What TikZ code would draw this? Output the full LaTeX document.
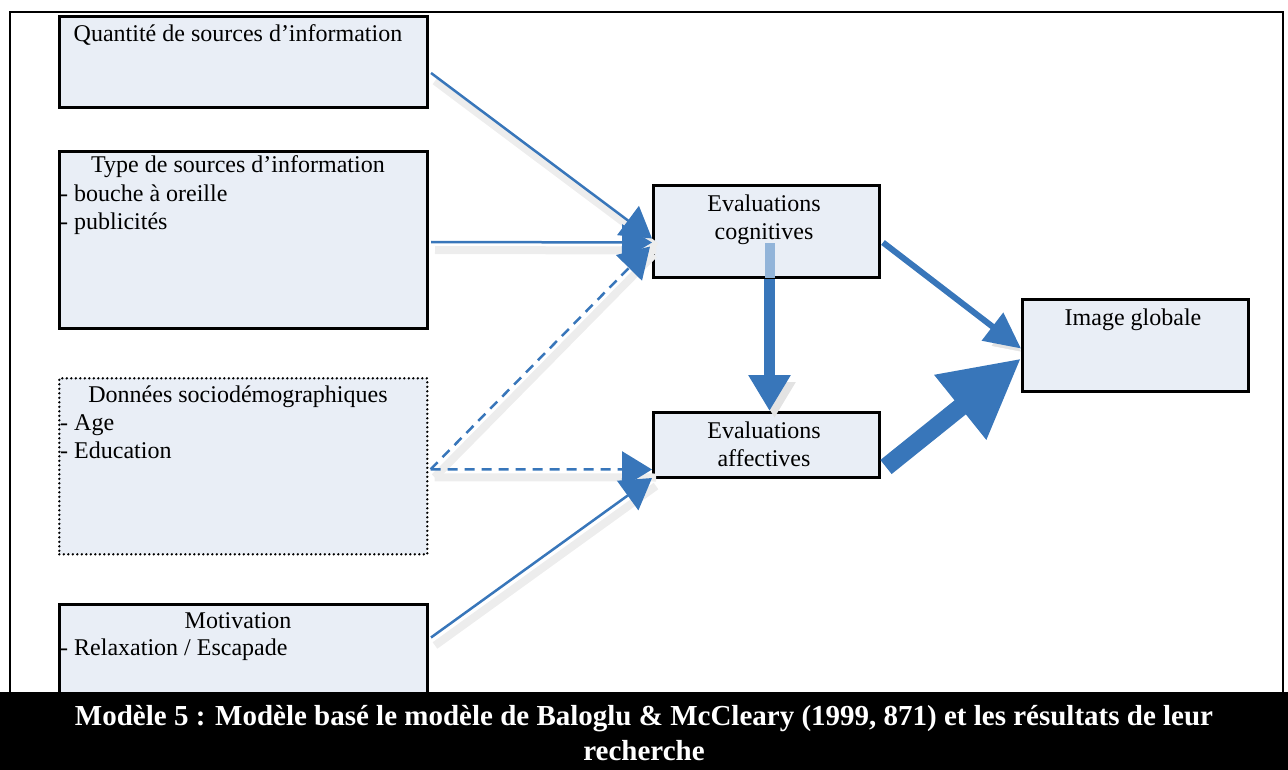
\documentclass[tikz,border=0pt]{standalone}
\usepackage{fontspec}
\setmainfont{Liberation Serif}
\usetikzlibrary{arrows.meta,calc}
\definecolor{boxfill}{RGB}{233,238,246}
\definecolor{arrowblue}{RGB}{56,118,186}
\begin{document}
\begin{tikzpicture}[x=1pt,y=-1pt,
  box/.style={draw=black, line width=3pt, fill=boxfill, inner sep=0pt},
  dotbox/.style={draw=black, line width=2.6pt, dash pattern=on 0pt off 4.5pt, line cap=round, fill=boxfill, inner sep=0pt},
  txt/.style={font=\fontsize{24}{28}\selectfont, inner sep=0pt},
  shad/.style={preaction={draw=black!11, transform canvas={shift={(5pt,-7pt)}}}},
  thinshad/.style={preaction={draw=black!7, line width=8pt, solid, -, transform canvas={shift={(4pt,-8pt)}}}},
  thin/.style={thinshad, draw=arrowblue, line width=2.5pt, -{Triangle[length=30pt,width=36pt]}},
  thindash/.style={thin, dash pattern=on 10pt off 7pt},
  medarrow/.style={shad, draw=arrowblue, line width=6pt, -{Triangle[length=36pt,width=34pt]}},
  vertarrow/.style={shad, draw=arrowblue, line width=11pt, -{Triangle[length=36pt,width=40pt]}},
  bigarrow/.style={shad, draw=arrowblue, line width=18pt, -{Triangle[length=78pt,width=78pt]}},
  frame/.style={draw=black, line width=2pt}
]
\useasboundingbox (0,0) rectangle (1288,770);
% outer frame
\draw[frame] (10,692) -- (10,12) -- (1283,12) -- (1283,692);

% left boxes
\node[box, anchor=north west, minimum width=368pt, minimum height=91pt] (q) at (58,15) {};
\node[box, anchor=north west, minimum width=368pt, minimum height=177pt] (t) at (58,150) {};
\node[dotbox, anchor=north west, minimum width=368pt, minimum height=176pt] (d) at (58,377) {};
\node[box, anchor=north west, minimum width=368pt, minimum height=100pt] (m) at (58,603) {};

% middle / right boxes
\node[box, anchor=north west, minimum width=226pt, minimum height=92pt] (cog) at (652,184) {};
\node[box, anchor=north west, minimum width=226pt, minimum height=65pt] (aff) at (652,411) {};
\node[box, anchor=north west, minimum width=226pt, minimum height=92pt] (img) at (1021,298) {};

% texts
\node[txt, anchor=base] (qt) at (238,42) {Quantité de sources d’information};
\node[txt, anchor=base] (tt) at (238,173) {Type de sources d’information};
\node[txt, anchor=base west] (t1) at (60,202) {- bouche à oreille};
\node[txt, anchor=base west] (t2) at (60,230) {- publicités};
\node[txt, anchor=base] (dt) at (238,402) {Données sociodémographiques};
\node[txt, anchor=base west] (d1) at (60,430) {- Age};
\node[txt, anchor=base west] (d2) at (60,458) {- Education};
\node[txt, anchor=base] (mt) at (238,628) {Motivation};
\node[txt, anchor=base west] (m1) at (60,655) {- Relaxation / Escapade};
\node[txt, anchor=base] (c1) at (764,212) {Evaluations};
\node[txt, anchor=base] (c2) at (764,240) {cognitives};
\node[txt, anchor=base] (a1) at (764,438) {Evaluations};
\node[txt, anchor=base] (a2) at (764,466) {affectives};
\node[txt, anchor=base] (ig) at (1133,325) {Image globale};

% connector end points
\coordinate (qout) at ($(q.east)+(2,11)$);
\coordinate (tout) at ($(t.east)+(2,2)$);
\coordinate (dout) at ($(d.east)+(2,3)$);
\coordinate (mout) at ($(m.east)+(2,-17)$);
\coordinate (cogin1) at ($(cog.west)+(0,7)$);
\coordinate (cogin2) at ($(cog.west)+(0,11)$);
\coordinate (cogin3) at ($(cog.west)+(-2,15)$);
\coordinate (affin1) at ($(aff.west)+(0,24.5)$);
\coordinate (affin2) at ($(aff.west)+(0,33)$);
\coordinate (cogtop) at ($(cog.center)+(3,12)$);
\coordinate (cogbot) at ($(cog.south)+(3,0)$);
\coordinate (affbot) at ($(aff.north)+(3,0)$);
\coordinate (cogout) at ($(cog.east)+(2,11)$);
\coordinate (affout) at ($(aff.east)+(5,22)$);
\coordinate (imgin1) at ($(img.west)+(0,3)$);
\coordinate (imgin2) at ($(img.west)+(0,13)$);

% connectors
\draw[thin] (qout) -- (cogin1);
\draw[thin] (tout) -- (cogin2);
\draw[thindash] (dout) -- (cogin3);
\draw[thindash] (dout) -- (affin1);
\draw[thin] (mout) -- (affin2);
\fill[arrowblue!55] ($(cogtop)+(-5,0)$) rectangle ($(cogbot)+(5,-1.5)$);
\draw[vertarrow] (cogbot) -- (affbot);
\draw[medarrow] (cogout) -- (imgin1);
\draw[bigarrow] (affout) -- (imgin2);

% caption band
\fill[black] (0,692) rectangle (1288,770);
\node[font=\bfseries\fontsize{29}{35}\selectfont, text=white, align=center, inner sep=0pt] (cap) at (644,733)
  {Modèle 5 : Modèle basé le modèle de Baloglu \& McCleary (1999, 871) et les résultats de leur\\recherche};
\end{tikzpicture}
\end{document}
